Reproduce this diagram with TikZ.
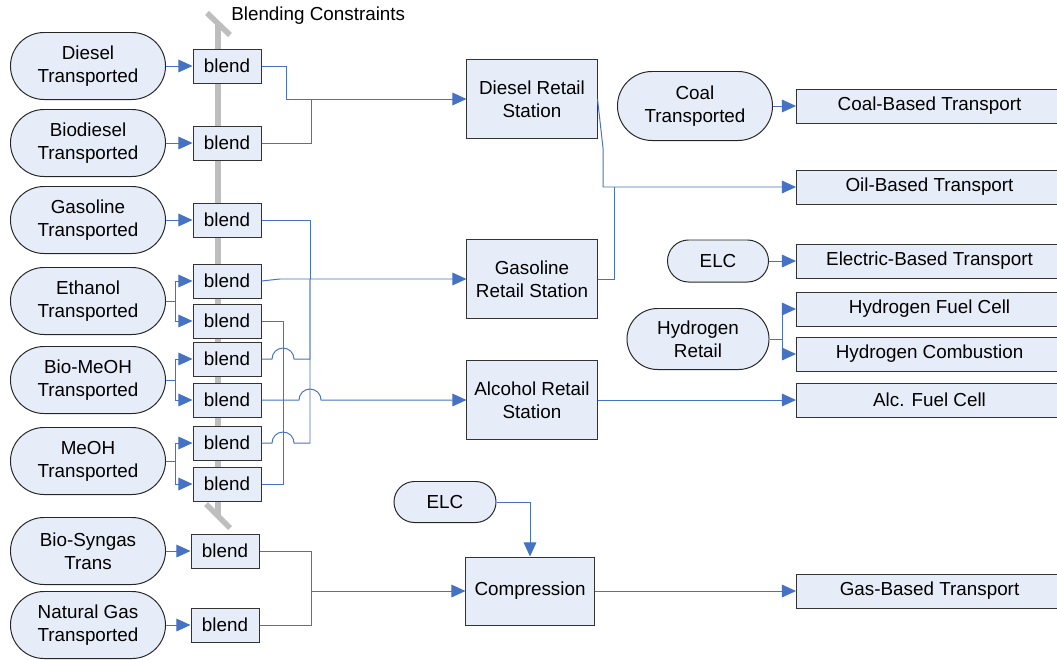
\documentclass[tikz,border=0pt]{standalone}
\usepackage{fontspec}
\setmainfont{Liberation Sans}
\usetikzlibrary{shapes.misc,arrows.meta}
\definecolor{boxfill}{RGB}{231,237,248}
\definecolor{flowblue}{RGB}{70,114,196}
\definecolor{bargray}{RGB}{190,190,190}
\tikzset{
  src/.style={rounded rectangle,draw=black!85,fill=boxfill,line width=0.7pt,align=center,inner sep=0pt,minimum width=3.875cm,minimum height=1.675cm},
  blendbox/.style={draw=black!80,fill=boxfill,line width=0.7pt,minimum width=1.7cm,minimum height=0.85cm,inner sep=0pt},
  station/.style={draw=black!80,fill=boxfill,line width=0.7pt,align=center,minimum width=3.25cm,minimum height=1.975cm,inner sep=0pt},
  target/.style={draw=black!80,fill=boxfill,line width=0.7pt,anchor=west,minimum width=6.65cm,minimum height=0.85cm,inner sep=0pt},
  flow/.style={draw=flowblue,line width=0.7pt},
  feed/.style={flow,-{Triangle[length=10pt,width=9pt]}},
  bar/.style={draw=bargray,line width=4pt}
}
\begin{document}
\begin{tikzpicture}[x=0.025cm,y=-0.025cm,font=\fontsize{13.4}{16.3}\selectfont]
\useasboundingbox (0,0) rectangle (1057,659);
\draw[bar] (218,24) -- (218,516);
\draw[bar] (207,13) -- (230,35);
\draw[bar] (206,504) -- (230,528);
\node[anchor=west,inner sep=0pt] (bc) at (231,16) {Blending Constraints};
\node[src] (dsl) at (88,66) {Diesel\\Transported};
\node[src] (bdsl) at (88,143) {Biodiesel\\Transported};
\node[src] (gsl) at (88,220) {Gasoline\\Transported};
\node[src] (eth) at (88,301) {Ethanol\\Transported};
\node[src] (bmeoh) at (88,380) {Bio-MeOH\\Transported};
\node[src] (meoh) at (88,461) {MeOH\\Transported};
\node[src] (bsyn) at (88,551) {Bio-Syngas\\Trans};
\node[src] (ngas) at (88,625) {Natural Gas\\Transported};
\node[blendbox] (bd) at (227,66) {blend};
\node[blendbox] (bbd) at (227,143) {blend};
\node[blendbox] (bg) at (227,220) {blend};
\node[blendbox] (be1) at (227,281) {blend};
\node[blendbox] (be2) at (227,321) {blend};
\node[blendbox] (bm1) at (227,359) {blend};
\node[blendbox] (bm2) at (227,400) {blend};
\node[blendbox] (bme1) at (227,443) {blend};
\node[blendbox] (bme2) at (227,484) {blend};
\node[blendbox] (bs) at (225,551) {blend};
\node[blendbox] (bn) at (225,625) {blend};
\node[station] (rdsl) at (532,99) {Diesel Retail\\Station};
\node[station] (rgas) at (532,279) {Gasoline\\Retail Station};
\node[station] (ralc) at (532,400) {Alcohol Retail\\Station};
\node[station,minimum width=3.2cm,minimum height=1.7cm] (comp) at (530,591) {Compression};
\node[src,minimum height=1.725cm] (coal) at (695,106) {Coal\\Transported};
\node[src,minimum width=2.525cm,minimum height=1.05cm] (elc) at (718,261) {ELC};
\node[src,minimum width=3.55cm,minimum height=1.525cm] (h2) at (698,339) {Hydrogen\\Retail};
\node[src,minimum width=2.55cm,minimum height=1.025cm] (elc2) at (445,502) {ELC};
\node[target] (tcoal) at (796,106) {Coal-Based Transport};
\node[target] (toil) at (796,187) {Oil-Based Transport};
\node[target] (telc) at (796,261) {Electric-Based Transport};
\node[target] (th2fc) at (796,309) {Hydrogen Fuel Cell};
\node[target] (th2c) at (796,354) {Hydrogen Combustion};
\node[target] (talc) at (796,400) {Alc. Fuel Cell};
\node[target] (tgas) at (796,591) {Gas-Based Transport};
\coordinate (dj) at (311,99);
\coordinate (gj) at (310,279);
\coordinate (aj) at (283,400);
\coordinate (oj) at (614,187);
\coordinate (sj) at (311,591);
\draw[feed] (dsl.east) -- (bd.west);
\draw[feed] (bdsl.east) -- (bbd.west);
\draw[feed] (gsl.east) -- (bg.west);
\draw[feed] (eth.east) -- (175,301) |- (be1.west);
\draw[feed] (eth.east) -- (175,301) |- (be2.west);
\draw[feed] (bmeoh.east) -- (175,380) |- (bm1.west);
\draw[feed] (bmeoh.east) -- (175,380) |- (bm2.west);
\draw[feed] (meoh.east) -- (175,461) |- (bme1.west);
\draw[feed] (meoh.east) -- (175,461) |- (bme2.west);
\draw[feed] (bsyn.east) -- (bs.west);
\draw[feed] (ngas.east) -- (bn.west);
\draw[feed] (bd.east) -| (286,99) -- (rdsl.west);
\draw[flow] (bbd.east) -| (dj);
\draw[feed] (be1.east) -- (280,279) -- (rgas.west);
\draw[flow] (bg.east) -| (gj);
\draw[flow] (bm1.east) -- (272,359) arc[start angle=180,end angle=0,radius=0.275cm] -- (310,359) -- (gj);
\draw[flow] (bme1.east) -- (272,443) arc[start angle=180,end angle=0,radius=0.275cm] -- (310,443) -- (gj);
\draw[flow] (be2.east) -| (aj);
\draw[flow] (bme2.east) -| (aj);
\draw[feed] (bm2.east) -- (299,400) arc[start angle=180,end angle=0,radius=0.275cm] -- (ralc.west);
\draw[feed] (bs.east) -| (sj) -- (comp.west);
\draw[flow] (bn.east) -| (sj);
\draw[feed] (rdsl.east) -- (603,148) -- (603,187) -- (toil.west);
\draw[flow] (rgas.east) -| (oj);
\draw[feed] (ralc.east) -- (talc.west);
\draw[feed] (elc2.east) -| (comp.north);
\draw[feed] (comp.east) -- (tgas.west);
\draw[feed] (coal.east) -- (tcoal.west);
\draw[feed] (elc.east) -- (telc.west);
\draw[feed] (h2.east) -- ++(13,0) |- (th2fc.west);
\draw[feed] (h2.east) -- ++(13,0) |- (th2c.west);
\end{tikzpicture}
\end{document}
